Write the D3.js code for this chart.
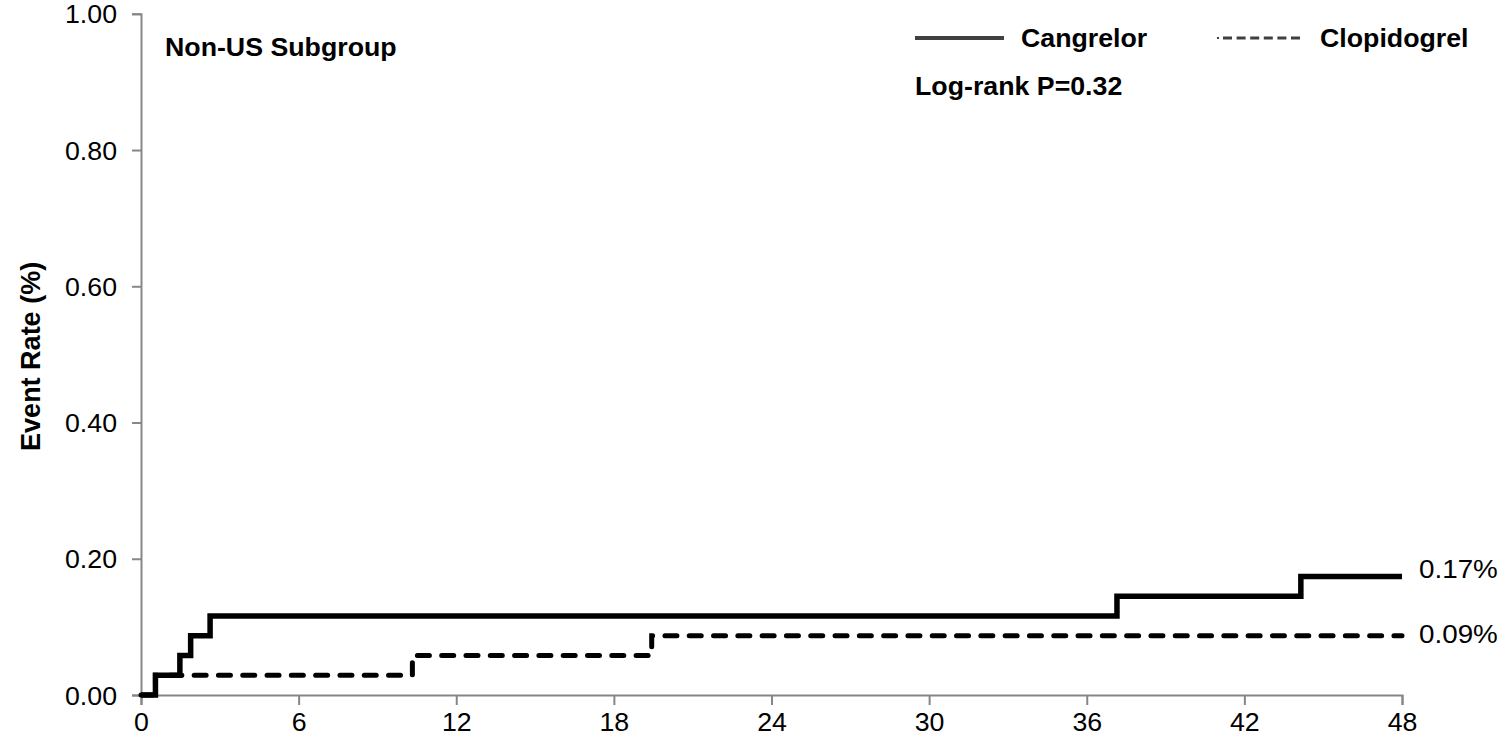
<!DOCTYPE html>
<html>
<head>
<meta charset="utf-8">
<script src="https://cdn.jsdelivr.net/npm/d3@7"></script>
<style>
	body { margin: 0; background: #fff; }
	text { font-family: Arial, "Liberation Sans", sans-serif; }
</style>
</head>
<body>
<svg id="km-plot" width="1502" height="738" viewBox="0 0 1502 738"></svg>
<script>

// months since randomisation
const x_ticks = [0, 6, 12, 18, 24, 30, 36, 42, 48];
const y_ticks = [0, 0.2, 0.4, 0.6, 0.8, 1.0];

// Kaplan-Meier step points (time in months, event rate in %)
const cangrelor_time = [0, 0.55, 1.48, 1.89, 2.63, 37.15, 44.15, 48];
const cangrelor_rate = [0, 0.029, 0.058, 0.087, 0.116, 0.145, 0.174, 0.174];

const clopidogrel_time = [0, 0.55, 10.33, 19.44, 48];
const clopidogrel_rate = [0, 0.029, 0.058, 0.087, 0.087];

const series_names = ["Cangrelor", "Clopidogrel"];
const end_labels = ["0.17%", "0.09%"];
const subgroup_title = "Non-US Subgroup";
const pvalue_text = "Log-rank P=0.32";
const y_title = "Event Rate (%)";

class KMPlot {

	constructor(svg_element_id) {
		this.svg = d3.select('#' + svg_element_id);

		const sx = 1.07; // text in the picture is a little wide
		const fs = "25px";
		const axis_color = "#878787";

		const x_scale = d3.scaleLinear()
			.domain([0, 48])
			.range([141, 1402]);

		const y_scale = d3.scaleLinear()
			.domain([0, 1])
			.range([695, 13.8]);

		// y axis
		const y_axis = d3.axisLeft(y_scale)
			.tickValues(y_ticks)
			.tickSize(9)
			.tickFormat(d3.format(".2f"));

		const y_g = this.svg.append("g")
			.attr("transform", "translate(" + x_scale(0) + ",0)")
			.call(y_axis);

		y_g.select(".domain").attr("stroke", axis_color).attr("stroke-width", 2);
		y_g.selectAll(".tick line").attr("stroke", axis_color).attr("stroke-width", 2);
		y_g.selectAll(".tick text")
			.attr("x", -24 / sx)
			.attr("dy", "0.36em")
			.attr("transform", "scale(" + sx + ",1)")
			.style("font-size", fs)
			.style("fill", "#000");

		// x axis
		const x_axis = d3.axisBottom(x_scale)
			.tickValues(x_ticks)
			.tickSize(10)
			.tickFormat(d3.format("d"));

		const x_g = this.svg.append("g")
			.attr("transform", "translate(0," + y_scale(0) + ")")
			.call(x_axis);

		x_g.select(".domain").attr("stroke", axis_color).attr("stroke-width", 2);
		x_g.selectAll(".tick line").attr("stroke", axis_color).attr("stroke-width", 2);
		x_g.selectAll(".tick text")
			.attr("y", 36)
			.attr("dy", 0)
			.attr("x", 0)
			.attr("transform", "scale(" + sx + ",1)")
			.style("font-size", fs)
			.style("fill", "#000");

		// y axis title
		this.svg.append("text")
			.attr("transform", "translate(40," + (y_scale(0.5) + 2) + ") rotate(-90)")
			.attr("text-anchor", "middle")
			.style("font-size", "27px")
			.style("font-weight", "bold")
			.text(y_title);

		// step curves
		const line = d3.line()
			.x(d => x_scale(d[0]))
			.y(d => y_scale(d[1]))
			.curve(d3.curveStepAfter);

		const cangrelor = d3.zip(cangrelor_time, cangrelor_rate);
		const clopidogrel = d3.zip(clopidogrel_time, clopidogrel_rate);

		this.svg.append("path")
			.datum(clopidogrel)
			.attr("d", line)
			.attr("fill", "none")
			.attr("stroke", "#000")
			.attr("stroke-width", 5)
			.attr("stroke-linecap", "round")
			.attr("stroke-dasharray", "12,12.3");

		this.svg.append("path")
			.datum(cangrelor)
			.attr("d", line)
			.attr("fill", "none")
			.attr("stroke", "#000")
			.attr("stroke-width", 5.5)
			.attr("stroke-linejoin", "miter");

		// end-of-curve labels
		const ends = [
			{label: end_labels[0], rate: cangrelor_rate[cangrelor_rate.length - 1], dy: -8},
			{label: end_labels[1], rate: clopidogrel_rate[clopidogrel_rate.length - 1], dy: -2}
		];

		this.svg.selectAll(".end-label")
			.data(ends)
			.enter()
			.append("text")
			.classed("end-label", true)
			.attr("transform", d => "translate(1419," + (y_scale(d.rate) + d.dy) + ") scale(" + sx + ",1)")
			.attr("dy", "0.36em")
			.style("font-size", "26px")
			.text(d => d.label);

		// annotations
		const bold_text = (x, y, str) => this.svg.append("text")
			.attr("transform", "translate(" + x + "," + y + ") scale(" + sx + ",1)")
			.style("font-size", fs)
			.style("font-weight", "bold")
			.text(str);

		bold_text(165, 56, subgroup_title);
		bold_text(915, 95, pvalue_text);

		// legend
		const legend_y = 38;
		this.svg.append("line")
			.attr("x1", 915).attr("x2", 1004)
			.attr("y1", legend_y).attr("y2", legend_y)
			.attr("stroke", "#404040")
			.attr("stroke-width", 4);
		bold_text(1021, legend_y + 9, series_names[0]);

		this.svg.append("rect")
			.attr("x", 1217).attr("y", legend_y - 1)
			.attr("width", 2).attr("height", 2)
			.attr("fill", "#404040");
		this.svg.append("line")
			.attr("x1", 1223).attr("x2", 1303)
			.attr("y1", legend_y).attr("y2", legend_y)
			.attr("stroke", "#404040")
			.attr("stroke-width", 3)
			.attr("stroke-dasharray", "9,4.6");
		bold_text(1320, legend_y + 9, series_names[1]);
	}
}

function whenDocumentLoaded(action) {
	if (document.readyState === "loading") {
		document.addEventListener("DOMContentLoaded", action);
	} else {
		action();
	}
}

whenDocumentLoaded(() => {
	plot_object = new KMPlot('km-plot');
});
</script>
</body>
</html>
